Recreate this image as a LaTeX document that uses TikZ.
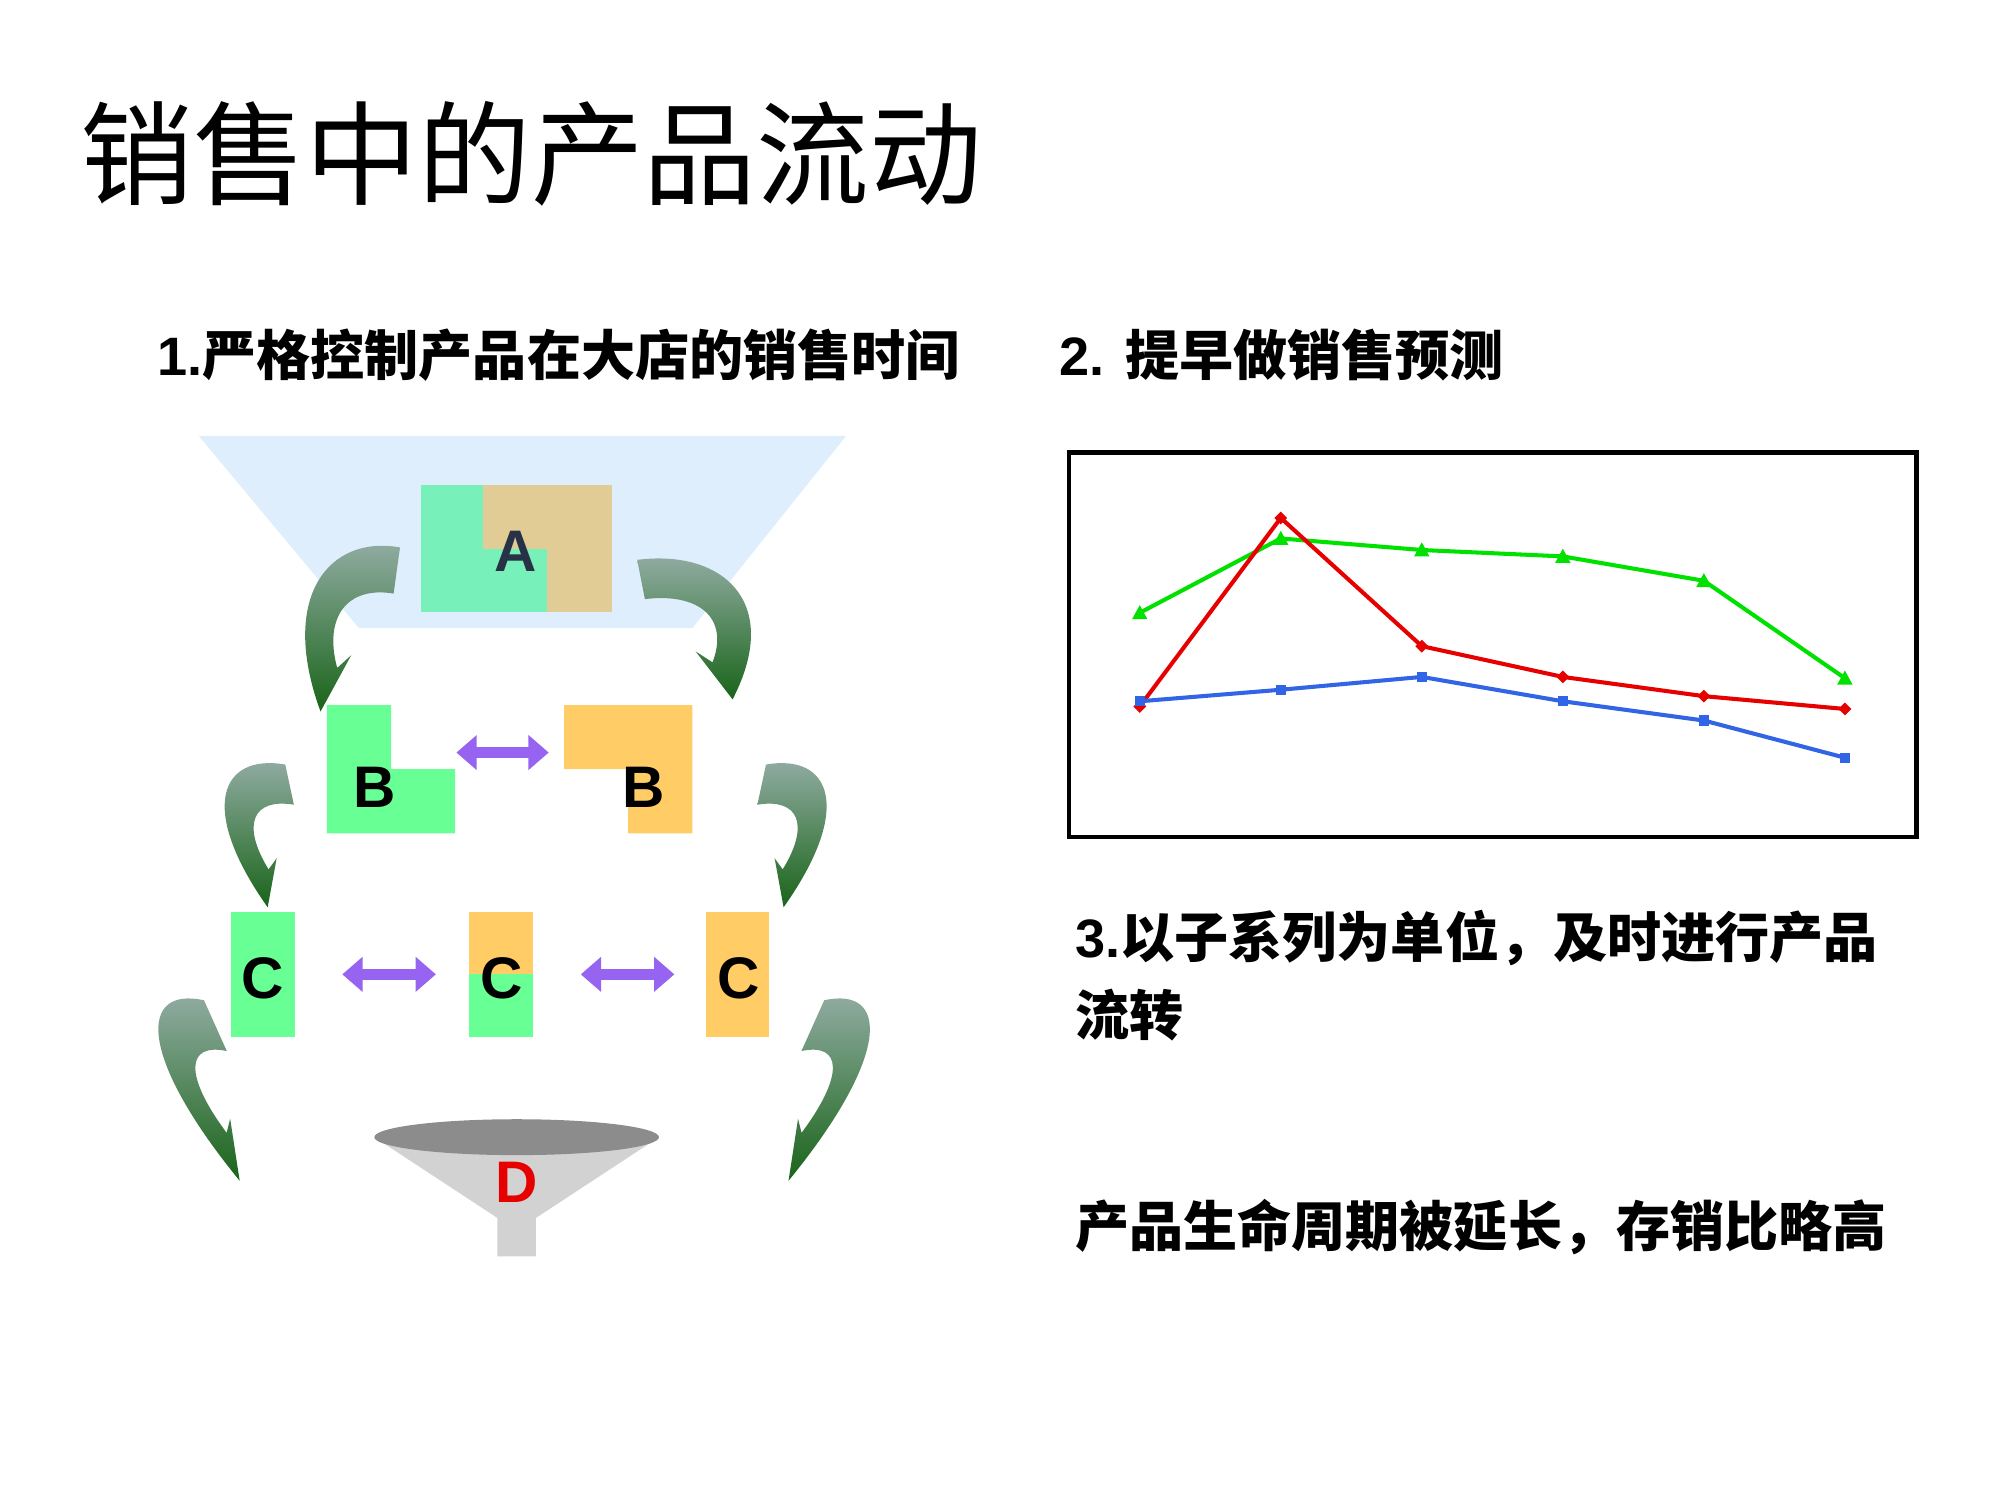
\documentclass[tikz,border=0pt]{standalone}
\usepackage{fontspec}
\setmainfont{Liberation Sans}
\newfontfamily\cjk{Noto Sans CJK SC}
\usetikzlibrary{arrows.meta,positioning}
\definecolor{funnelblue}{RGB}{222,238,252}
\definecolor{boxgreen}{RGB}{104,255,148}
\definecolor{agreen}{RGB}{120,240,185}
\definecolor{atan}{RGB}{226,204,150}
\definecolor{boxorange}{RGB}{255,204,102}
\definecolor{swappurple}{RGB}{150,100,240}
\definecolor{tailgreen}{RGB}{150,175,168}
\definecolor{tipgreen}{RGB}{25,100,25}
\definecolor{lnred}{RGB}{230,0,0}
\definecolor{lngreen}{RGB}{0,225,0}
\definecolor{lnblue}{RGB}{50,100,230}
\tikzset{
  letter/.style={font=\fontsize{13}{13}\bfseries},
  swap/.style={swappurple, line width=2.4pt, {Triangle[length=4.5pt,width=7.5pt]}-{Triangle[length=4.5pt,width=7.5pt]}},
  flowarrow/.pic={
    \shade[top color=tailgreen, bottom color=tipgreen]
      (0,-18) .. controls (-55,-28) and (-95,20) .. (-62,110)
      -- (-38,66) -- (-49,76) .. controls (-60,35) and (-40,12) .. (-5,18) -- cycle;
  },
  caption/.style={anchor=west, inner sep=0pt, font=\fontsize{12}{17.5}\bfseries},
  series/.style={line width=0.9pt}
}
\begin{document}
\begin{tikzpicture}[x=0.01cm, y=-0.01cm]
\useasboundingbox (0,0) rectangle (1560,1170);

% title and captions
\node (title) [anchor=west, inner sep=0pt, font=\fontsize{25}{26}\cjk] at (62,120) {销售中的产品流动};
\node (cap1) [caption] at (122,277) {1.{\cjk 严格控制产品在大店的销售时间}};
\node (cap2) [caption] at (826,277) {2. {\cjk 提早做销售预测}};
\node (cap3) [caption, align=left] at (838,761) {3.{\cjk 以子系列为单位，及时进行产品}\\{\cjk 流转}};
\node (cap4) [caption] at (838,957) {\cjk 产品生命周期被延长，存销比略高};

% funnel top
\fill[funnelblue] (155,340) -- (660,340) -- (540,490) -- (280,490) -- cycle;
\fill[agreen] (328,378) rectangle (477,477);
\fill[atan] (377,378) rectangle (477,477);
\fill[agreen] (377,428) rectangle (427,477);
\node (A) [letter, text={rgb,255:red,40;green,50;blue,70}] at (402,430) {A};

% level B
\fill[boxgreen] (255,550) rectangle (305,650) (305,600) rectangle (355,650);
\fill[boxorange] (440,550) rectangle (540,600) (490,600) rectangle (540,650);
\node (B1) [letter] at (292,614) {B};
\node (B2) [letter] at (502,614) {B};
\draw[swap] (356,587) -- (428,587);

% level C
\fill[boxgreen] (180,711) rectangle (230,809);
\fill[boxorange] (366,711) rectangle (416,760);
\fill[boxgreen] (366,760) rectangle (416,809);
\fill[boxorange] (551,711) rectangle (600,809);
\node (C1) [letter] at (205,763) {C};
\node (C2) [letter] at (391,763) {C};
\node (C3) [letter] at (576,763) {C};
\draw[swap] (267,760) -- (340,760);
\draw[swap] (453,760) -- (526,760);

% funnel bottom
\fill[gray!35] (292,887) -- (514,887) -- (418,950) -- (418,980) -- (388,980) -- (388,950) -- cycle;
\fill[gray!90] (403,887) ellipse [x radius=111, y radius=14];
\node (D) [letter, text=lnred] at (403,922) {D};

% curved arrows
\pic at (312,445) {flowarrow};
\pic[xscale=-1.2, yscale=0.85] at (497,452) {flowarrow};
\pic[xslant=-0.35, xscale=0.85, yscale=0.87] at (228,612) {flowarrow};
\pic[xslant=0.35, xscale=-0.85, yscale=0.87] at (592,612) {flowarrow};
\pic[xslant=-0.55, xscale=0.8, yscale=1.1] at (170,800) {flowarrow};
\pic[xslant=0.55, xscale=-0.8, yscale=1.1] at (632,800) {flowarrow};

% chart
\draw[line width=1pt] (834,353) rectangle (1495,653);
\draw[series, lngreen] plot coordinates {(889,478) (999,420) (1109,429) (1219,434) (1329,453) (1439,529)};
\draw[series, lnred] plot coordinates {(889,551) (999,404) (1109,504) (1219,528) (1329,543) (1439,553)};
\draw[series, lnblue] plot coordinates {(889,547) (999,538) (1109,528) (1219,547) (1329,562) (1439,591)};
\foreach \px/\py in {889/478,999/420,1109/429,1219/434,1329/453,1439/529}
  \fill[lngreen] (\px,\py-6) -- (\px+6,\py+5) -- (\px-6,\py+5) -- cycle;
\foreach \px/\py in {889/551,999/404,1109/504,1219/528,1329/543,1439/553}
  \fill[lnred] (\px,\py-5) -- (\px+5,\py) -- (\px,\py+5) -- (\px-5,\py) -- cycle;
\foreach \px/\py in {889/547,999/538,1109/528,1219/547,1329/562,1439/591}
  \fill[lnblue] (\px-4,\py-4) rectangle (\px+4,\py+4);
\end{tikzpicture}
\end{document}
